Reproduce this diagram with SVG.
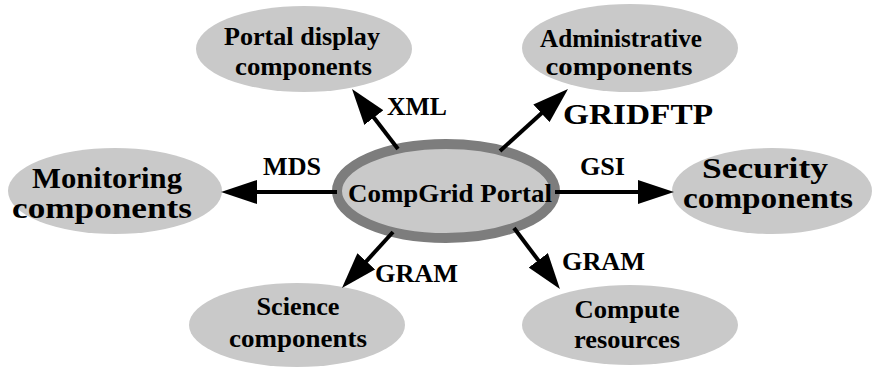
<svg xmlns="http://www.w3.org/2000/svg" width="875" height="367" viewBox="0 0 875 367">
<style>
.node{fill:#c9c9c9;stroke:none}
.hub{fill:#c9c9c9;stroke:#7d7d7d;stroke-width:10}
text{font-family:"Liberation Serif","Times New Roman",serif;font-weight:bold;font-size:26px;fill:#000;text-anchor:middle}
.big{font-size:29px}
.conn line{stroke:#000;stroke-width:4;marker-end:url(#ah)}
</style>
<defs>
<marker id="ah" viewBox="0 -12 40 24" markerWidth="40" markerHeight="24" refX="2" refY="0" markerUnits="userSpaceOnUse" orient="auto">
<path d="M0,-12 L36,0 L0,12 z" fill="#000"/>
</marker>
</defs>
<rect width="875" height="367" fill="#fff"/>
<g id="portal-display">
<ellipse class="node" cx="304" cy="49" rx="108" ry="43"/>
<text x="302" y="45" textLength="156" lengthAdjust="spacingAndGlyphs">Portal display</text>
<text x="303.5" y="75" textLength="137" lengthAdjust="spacingAndGlyphs">components</text>
</g>
<g id="administrative">
<ellipse class="node" cx="630" cy="48" rx="108" ry="44"/>
<text x="621" y="47" textLength="162" lengthAdjust="spacingAndGlyphs">Administrative</text>
<text x="619" y="75" textLength="147" lengthAdjust="spacingAndGlyphs">components</text>
</g>
<g id="monitoring">
<ellipse class="node" cx="115" cy="191" rx="107" ry="43"/>
<text class="big" x="107" y="188" textLength="150" lengthAdjust="spacingAndGlyphs">Monitoring</text>
<text class="big" x="102" y="218" textLength="180" lengthAdjust="spacingAndGlyphs">components</text>
</g>
<g id="security">
<ellipse class="node" cx="772" cy="191" rx="100" ry="43"/>
<text class="big" x="765" y="178" textLength="126" lengthAdjust="spacingAndGlyphs">Security</text>
<text class="big" x="768" y="208" textLength="170" lengthAdjust="spacingAndGlyphs">components</text>
</g>
<g id="science">
<ellipse class="node" cx="297" cy="325" rx="108" ry="42"/>
<text x="298" y="315" textLength="83" lengthAdjust="spacingAndGlyphs">Science</text>
<text x="298" y="347" textLength="138" lengthAdjust="spacingAndGlyphs">components</text>
</g>
<g id="compute">
<ellipse class="node" cx="630" cy="325" rx="108" ry="40"/>
<text x="627" y="318" textLength="105" lengthAdjust="spacingAndGlyphs">Compute</text>
<text x="627" y="348" textLength="106" lengthAdjust="spacingAndGlyphs">resources</text>
</g>
<g id="compgrid-portal">
<ellipse class="hub" cx="446" cy="191" rx="109" ry="47"/>
<text x="450" y="202" font-size="29" textLength="204" lengthAdjust="spacingAndGlyphs">CompGrid Portal</text>
</g>
<g id="connectors" class="conn">
<line x1="398" y1="149" x2="372.7" y2="116"/>
<line x1="500" y1="151" x2="542.9" y2="111.9"/>
<line x1="337" y1="192" x2="255" y2="192"/>
<line x1="555" y1="192" x2="640" y2="192"/>
<line x1="393" y1="232" x2="364.9" y2="262.8"/>
<line x1="514" y1="228" x2="539.5" y2="261.9"/>
</g>
<g id="labels">
<text x="417" y="115" textLength="60" lengthAdjust="spacingAndGlyphs">XML</text>
<text class="big" x="638" y="124" textLength="150" lengthAdjust="spacingAndGlyphs">GRIDFTP</text>
<text x="292" y="175" textLength="58" lengthAdjust="spacingAndGlyphs">MDS</text>
<text x="602.5" y="175" textLength="45" lengthAdjust="spacingAndGlyphs">GSI</text>
<text x="416.5" y="282" textLength="83" lengthAdjust="spacingAndGlyphs">GRAM</text>
<text x="603.5" y="270" textLength="83" lengthAdjust="spacingAndGlyphs">GRAM</text>
</g>
</svg>
